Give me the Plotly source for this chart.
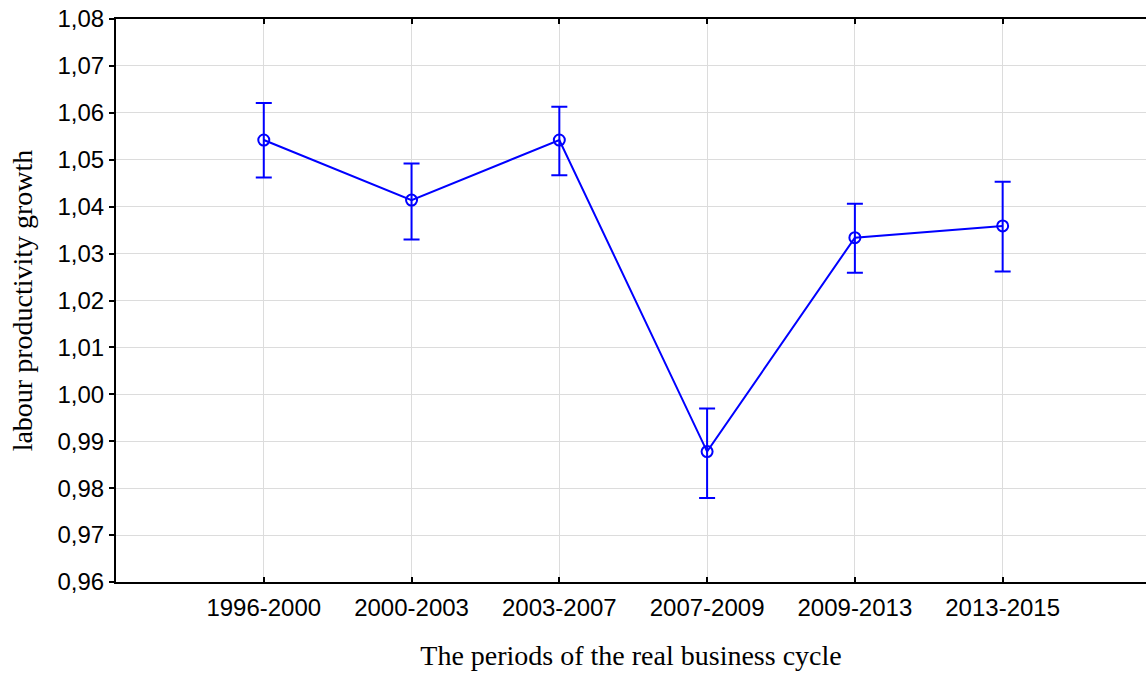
import plotly.graph_objects as go

# Business-cycle periods and mean labour productivity growth with error bounds
periods = ["1996-2000", "2000-2003", "2003-2007", "2007-2009", "2009-2013", "2013-2015"]
growth = [1.0542, 1.0414, 1.0542, 0.9878, 1.0334, 1.0359]
upper = [1.0621, 1.0492, 1.0613, 0.9970, 1.0406, 1.0453]
lower = [1.0462, 1.0330, 1.0467, 0.9779, 1.0259, 1.0262]

err_plus = [u - g for u, g in zip(upper, growth)]
err_minus = [g - l for g, l in zip(growth, lower)]
xpos = list(range(len(periods)))

BLUE = "#0000FF"

fig = go.Figure()
fig.add_trace(go.Scatter(
    x=xpos,
    y=growth,
    mode="lines+markers",
    line=dict(color=BLUE, width=2),
    marker=dict(symbol="circle-open", size=11, color=BLUE, line=dict(width=2, color=BLUE)),
    error_y=dict(type="data", symmetric=False, array=err_plus, arrayminus=err_minus,
                 color=BLUE, thickness=2, width=8),
    showlegend=False,
))

fig.update_layout(
    width=1146,
    height=675,
    margin=dict(l=116, r=0, t=19, b=93),
    paper_bgcolor="white",
    plot_bgcolor="white",
    separators=",.",
    font=dict(family="Liberation Sans, Arial, sans-serif", size=24, color="black"),
    xaxis=dict(
        range=[-1, 5.97],
        tickmode="array",
        tickvals=xpos,
        ticktext=periods,
        showgrid=True,
        gridcolor="#dcdcdc",
        gridwidth=1,
        showline=True,
        linecolor="black",
        linewidth=2,
        mirror="ticks",
        ticks="inside",
        ticklen=5,
        tickwidth=2,
        tickcolor="black",
        ticklabelstandoff=3,
        zeroline=False,
        title=dict(text="The periods of the real business cycle",
                   font=dict(family="Liberation Serif, Times New Roman, serif", size=28),
                   standoff=26),
    ),
    yaxis=dict(
        range=[0.96, 1.08],
        dtick=0.01,
        tick0=0.96,
        tickformat=".2f",
        showgrid=True,
        gridcolor="#dcdcdc",
        gridwidth=1,
        showline=True,
        linecolor="black",
        linewidth=2,
        mirror=False,
        ticks="outside",
        ticklen=5,
        tickwidth=2,
        tickcolor="black",
        zeroline=False,
        title=dict(text="labour productivity growth",
                   font=dict(family="Liberation Serif, Times New Roman, serif", size=28),
                   standoff=17),
    ),
)

fig.write_html("out.html")
